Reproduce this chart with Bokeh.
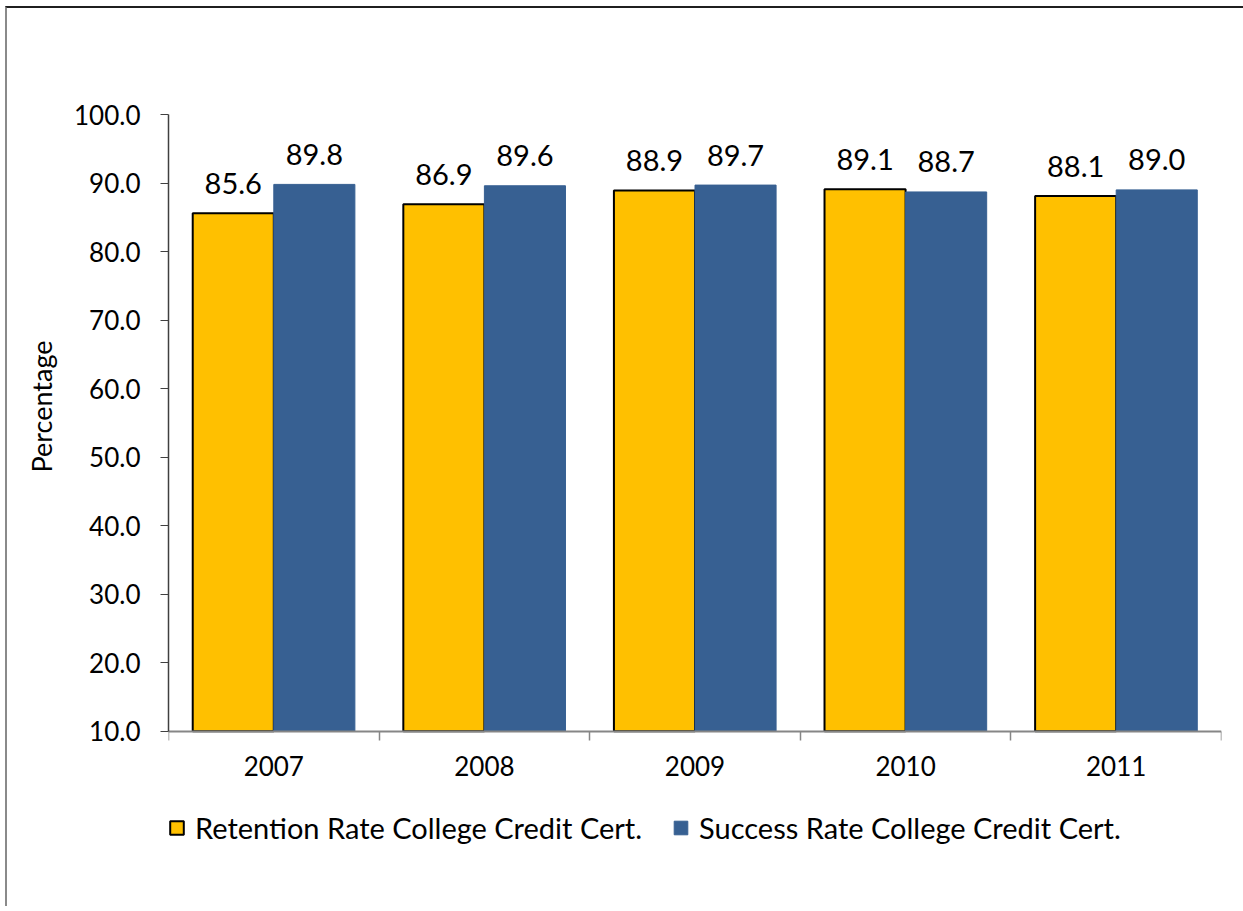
from bokeh.plotting import figure
from bokeh.models import (FixedTicker, Legend, LegendItem, NumeralTickFormatter,
                          Range1d, CustomJSTickFormatter, Title)
from bokeh.embed import file_html
from bokeh.resources import INLINE
from bokeh.core.properties import value
import numpy as np

years = ["2007", "2008", "2009", "2010", "2011"]
retention = [85.6, 86.9, 88.9, 89.1, 88.1]
success = [89.8, 89.6, 89.7, 88.7, 89.0]
y_ticks = [10, 20, 30, 40, 50, 60, 70, 80, 90, 100]
series_names = ["Retention Rate College Credit Cert.", "Success Rate College Credit Cert."]
y_label = "Percentage"

FONT = "Lato"
ORANGE = "#FFC000"
BLUE = "#376092"

n = len(years)
centers = np.arange(n) + 0.5
bw = 0.385
off = bw / 2
y_min, y_max = y_ticks[0], y_ticks[-1]

# frame is extended below the x axis so the legend can sit inside it
p = figure(frame_width=1053, frame_height=747,
           x_range=Range1d(0, n), y_range=Range1d(y_min - 19, y_max),
           output_backend="svg", toolbar_location=None,
           min_border_left=161, min_border_right=22,
           min_border_top=106, min_border_bottom=45)
p.styles = {"margin-left": "5px", "margin-top": "6px",
            "border-left": "2px solid #8a8a8a", "border-top": "2px solid #1f1f1f"}
p.outline_line_color = None
p.xgrid.visible = False
p.ygrid.visible = False

r1 = p.vbar(x=centers - off, top=retention, bottom=y_min, width=bw,
            fill_color=ORANGE, line_color="black", line_width=2)
r2 = p.vbar(x=centers + off, top=success, bottom=y_min, width=bw,
            fill_color=BLUE, line_color=BLUE, line_width=1)

p.text(x=centers - off, y=retention, text=[f"{v:.1f}" for v in retention],
       text_align="center", text_baseline="alphabetic", y_offset=-30,
       text_font=value(FONT), text_font_size="29px", text_color="black")
p.text(x=centers + off, y=success, text=[f"{v:.1f}" for v in success],
       text_align="center", text_baseline="alphabetic", y_offset=-30,
       text_font=value(FONT), text_font_size="29px", text_color="black")

# y axis
ya = p.yaxis[0]
ya.bounds = (y_min, y_max)
ya.ticker = FixedTicker(ticks=y_ticks)
ya.formatter = NumeralTickFormatter(format="0.0")
ya.axis_line_color = "#404040"
ya.axis_line_width = 1.5
ya.major_tick_line_color = "#404040"
ya.major_tick_out = 8
ya.major_tick_in = 0
ya.minor_tick_line_color = None
ya.major_label_standoff = 20
ya.major_label_text_font = FONT
ya.major_label_text_font_size = "26px"
ya.major_label_text_color = "black"

# y axis title, centred on the 10-100 span rather than the whole frame
p.add_layout(Title(text=y_label, align="right", offset=226, standoff=28,
                   text_font=FONT, text_font_size="27px",
                   text_font_style="normal", text_color="black"), "left")

# x axis
xa = p.xaxis[0]
xa.fixed_location = y_min
xa.bounds = (0, n)
xa.ticker = FixedTicker(ticks=list(centers), minor_ticks=list(range(n + 1)))
xa.formatter = CustomJSTickFormatter(args=dict(years=years),
                                     code="return years[Math.floor(tick)];")
xa.axis_line_color = "#868686"
xa.axis_line_width = 2
xa.major_tick_out = 0
xa.major_tick_in = 0
xa.minor_tick_out = 9
xa.minor_tick_in = 0
xa.minor_tick_line_color = "#868686"
xa.minor_tick_line_width = 1.5
xa.major_label_standoff = 16
xa.major_label_text_font = FONT
xa.major_label_text_font_size = "26px"
xa.major_label_text_color = "black"

legend = Legend(items=[LegendItem(label=series_names[0], renderers=[r1]),
                       LegendItem(label=series_names[1], renderers=[r2])],
                orientation="horizontal", location=(0, 16),
                margin=0, padding=0, spacing=30,
                glyph_width=17, glyph_height=17, label_standoff=10,
                label_text_font=FONT, label_text_font_size="29px",
                label_text_color="black",
                border_line_color=None, background_fill_alpha=0)
p.add_layout(legend)

open("out.html", "w").write(file_html(p, INLINE))
